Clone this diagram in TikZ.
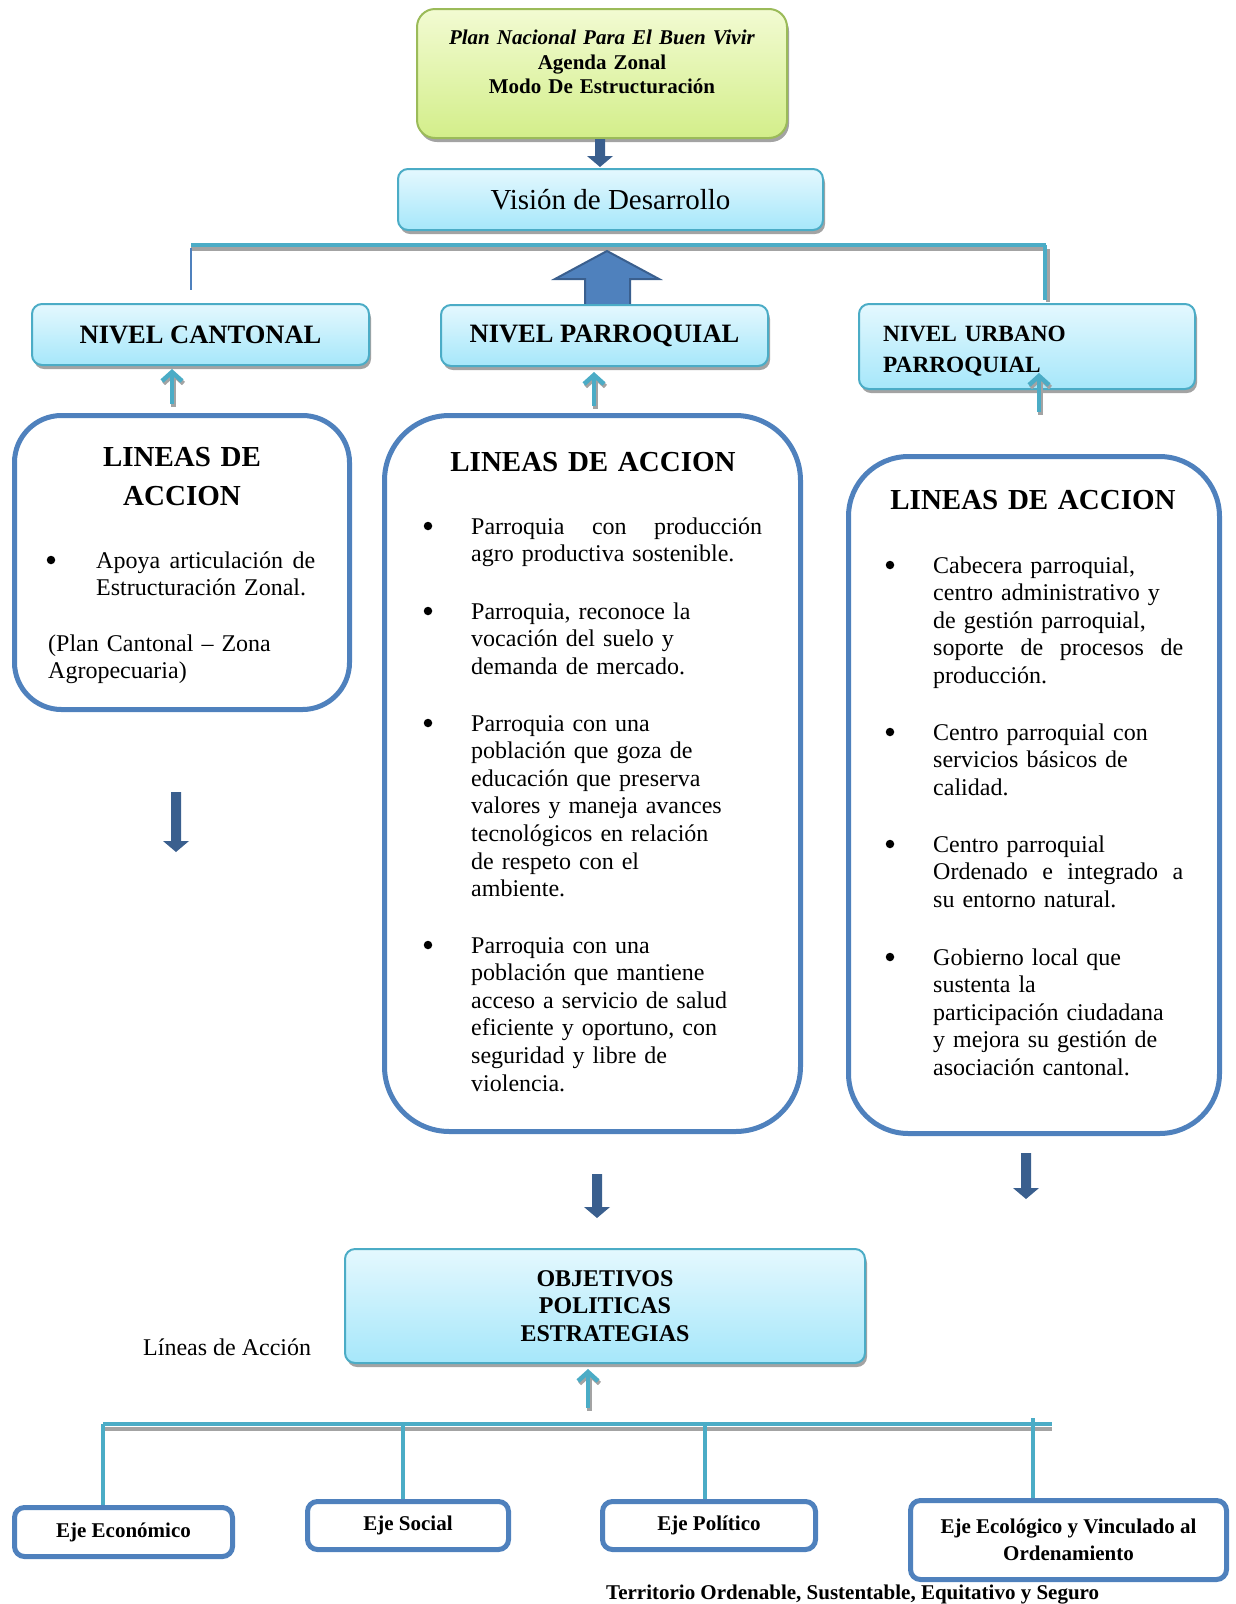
\documentclass[tikz,border=0pt]{standalone}
\usepackage{fontspec}
\setmainfont{Liberation Serif}
\usetikzlibrary{arrows.meta,shadows}
\definecolor{tealc}{HTML}{4BACC6}
\definecolor{bluec}{HTML}{4F81BD}
\definecolor{darkb}{HTML}{3A5F8E}
\definecolor{grnc}{HTML}{9BBB59}
\definecolor{lbtop}{HTML}{E4F8FE}
\definecolor{lbbot}{HTML}{A6E7FA}
\definecolor{gtop}{HTML}{F2FBD2}
\definecolor{gbot}{HTML}{D3EE8A}
\definecolor{shad}{HTML}{A3A3A3}
\newcommand{\fz}[2]{\fontsize{#1}{#2}\selectfont}
\newcommand{\jline}[2]{\leavevmode\hbox to #1{#2}}
\newcommand{\dnarrow}[3]{%
  \fill[darkb] (#1-5,#2) -- (#1+5,#2) -- (#1+5,#3-11) -- (#1+13,#3-11) -- (#1,#3)
    -- (#1-13,#3-11) -- (#1-5,#3-11) -- cycle;}
\begin{document}
\begin{tikzpicture}[x=1pt,y=-1pt,
  lbox/.style={rectangle, rounded corners=10pt, draw=tealc, line width=2pt,
    top color=lbtop, bottom color=lbbot, inner sep=0pt,
    drop shadow={shadow xshift=2pt, shadow yshift=-4pt, fill=shad, opacity=1}},
  gbox/.style={rectangle, rounded corners=18pt, draw=grnc, line width=2pt,
    top color=gtop, bottom color=gbot, inner sep=0pt,
    drop shadow={shadow xshift=2pt, shadow yshift=-4pt, fill=shad, opacity=1}},
  labox/.style={rectangle, draw=bluec, line width=5pt, fill=white, inner sep=0pt},
  ebox/.style={rectangle, rounded corners=10pt, draw=bluec, line width=5pt, fill=white,
    inner sep=0pt, font=\fz{21}{27}\bfseries, align=center},
  btxt/.style={font=\fz{24}{27.6}, text width=#1, align=left, inner sep=0pt, anchor=base west},
  bul/.style={circle, fill=black, inner sep=0pt, minimum size=8.5pt},
  ttl/.style={font=\fz{29}{39}\bfseries, inner sep=0pt, anchor=base, text width=330pt, align=center},
  tline/.style={draw=tealc, line width=4.5pt},
  sline/.style={draw=shad, line width=4pt},
  tarrow/.style={draw=tealc, line width=4.5pt, -{Straight Barb[length=9pt,width=20pt]}},
  sarrow/.style={draw=shad, line width=4.5pt, -{Straight Barb[length=9pt,width=20pt]}},
]
\useasboundingbox (0,0) rectangle (1235,1604);

% ---------- top ----------
\node[gbox, minimum width=370pt, minimum height=129pt] (plan) at (602,73.5) {};
\node[inner sep=0pt, anchor=base, text width=360pt, align=center, font=\fz{21}{24.5}\bfseries]
  (plantxt) at (602,44.5) {\textit{Plan Nacional Para El Buen Vivir}\\Agenda Zonal\\Modo De Estructuración};
\dnarrow{600}{139}{167}

\node[lbox, minimum width=425pt, minimum height=61pt, font=\fz{29}{33}] (vision) at (610.5,199.5) {Visión de Desarrollo};

% ---------- top bracket ----------
\coordinate (brL) at (191,245);
\coordinate (brR) at (1046,245);
\draw[sline] ([yshift=-4]brL) -- ([yshift=-4]brR);
\draw[tline] (brL) -- (brR);
\draw[bluec, line width=1.5pt] ([yshift=-3]brL) -- (191,290);
\draw[sline] (1048,249) -- (1048,302);
\draw[tline] (1045,245) -- (1045,300);

% big block up arrow
\filldraw[fill=bluec, draw=darkb, line width=2pt]
  (607,251) -- (659,279) -- (630,279) -- (630,306) -- (585,306) -- (585,279) -- (555,279) -- cycle;

% ---------- level boxes ----------
\node[lbox, minimum width=337pt, minimum height=61pt, font=\fz{26.5}{30}\bfseries] (canton) at (200.5,334.5) {NIVEL CANTONAL};
\node[lbox, minimum width=327pt, minimum height=61pt, font=\fz{26.5}{30}\bfseries] (parroq) at (604.5,335.5) {NIVEL PARROQUIAL};
\node[lbox, minimum width=336pt, minimum height=85pt] (urbano) at (1027,346.5) {};
\node[inner sep=0pt, anchor=base west, text width=300pt, align=left, font=\fz{23.3}{31}\bfseries]
  (urbtxt) at (883,341) {NIVEL URBANO\\PARROQUIAL};

% ---------- teal up arrows ----------
\coordinate (ta1s) at (172,404); \coordinate (ta1e) at (172,369);
\coordinate (ta2s) at (594,406); \coordinate (ta2e) at (594,372);
\coordinate (ta3s) at (1039,412); \coordinate (ta3e) at (1039,373);
\draw[sarrow] ([shift={(1.5,2.5)}]ta1s) -- ([shift={(1.5,2.5)}]ta1e);
\draw[tarrow] (ta1s) -- (ta1e);
\draw[sarrow] ([shift={(1.5,2.5)}]ta2s) -- ([shift={(1.5,2.5)}]ta2e);
\draw[tarrow] (ta2s) -- (ta2e);
\draw[sarrow] ([shift={(1.5,2.5)}]ta3s) -- ([shift={(1.5,2.5)}]ta3e);
\draw[tarrow] (ta3s) -- (ta3e);

% ---------- LINEAS DE ACCION boxes ----------
\node[labox, rounded corners=47pt, minimum width=335pt, minimum height=294pt] (linL) at (182,562.5) {};
\node[labox, rounded corners=65pt, minimum width=416pt, minimum height=716pt] (linM) at (592.5,773.5) {};
\node[labox, rounded corners=60pt, minimum width=371pt, minimum height=677pt] (linR) at (1034,795) {};

% left box text
\node[ttl] (tL) at (182,466) {LINEAS DE\\ACCION};
\node[bul] (bL1) at (51,560) {};
\node[btxt=219pt] (iL1) at (96,568) {\jline{219pt}{Apoya\hfill articulación\hfill de}\\Estructuración Zonal.};
\node[btxt=290pt] (iL2) at (48,651) {(Plan Cantonal – Zona\\Agropecuaria)};

% middle box text
\node[ttl] (tM) at (593,471.5) {LINEAS DE ACCION};
\node[bul] (bM1) at (428,526) {};
\node[btxt=291pt] (iM1) at (471,534) {\jline{291pt}{Parroquia\hfill con\hfill producción}\\agro productiva sostenible.};
\node[bul] (bM2) at (428,611) {};
\node[btxt=291pt] (iM2) at (471,619) {Parroquia, reconoce la\\vocación del suelo y\\demanda de mercado.};
\node[bul] (bM3) at (428,723) {};
\node[btxt=291pt] (iM3) at (471,731) {Parroquia con una\\población que goza de\\educación que preserva\\valores y maneja avances\\tecnológicos en relación\\de respeto con el\\ambiente.};
\node[bul] (bM4) at (428,945) {};
\node[btxt=291pt] (iM4) at (471,953) {Parroquia con una\\población que mantiene\\acceso a servicio de salud\\eficiente y oportuno, con\\seguridad y libre de\\violencia.};

% right box text
\node[ttl] (tR) at (1033,509.5) {LINEAS DE ACCION};
\node[bul] (bR1) at (890,565) {};
\node[btxt=250pt] (iR1) at (933,573) {Cabecera parroquial,\\centro administrativo y\\de gestión parroquial,\\\jline{250pt}{soporte\hfill de\hfill procesos\hfill de}\\producción.};
\node[bul] (bR2) at (890,732) {};
\node[btxt=250pt] (iR2) at (933,740) {Centro parroquial con\\servicios básicos de\\calidad.};
\node[bul] (bR3) at (890,844) {};
\node[btxt=250pt] (iR3) at (933,852) {Centro parroquial\\\jline{250pt}{Ordenado\hfill e\hfill integrado\hfill a}\\su entorno natural.};
\node[bul] (bR4) at (890,957) {};
\node[btxt=250pt] (iR4) at (933,965) {Gobierno local que\\sustenta la\\participación ciudadana\\y mejora su gestión de\\asociación cantonal.};

% ---------- dark down arrows ----------
\dnarrow{176}{792}{852}
\dnarrow{597}{1174}{1218}
\dnarrow{1026}{1153}{1199}

% ---------- objectives ----------
\node[lbox, minimum width=520pt, minimum height=114pt, font=\fz{24}{27.6}\bfseries, align=center]
  (obj) at (605,1306) {OBJETIVOS\\POLITICAS\\ESTRATEGIAS};
\node[inner sep=0pt, anchor=base west, font=\fz{24}{27.6}] (lineas) at (143,1355) {Líneas de Acción};

\coordinate (ta4s) at (588,1408); \coordinate (ta4e) at (588,1369);
\draw[sarrow] ([shift={(1.5,2.5)}]ta4s) -- ([shift={(1.5,2.5)}]ta4e);
\draw[tarrow] (ta4s) -- (ta4e);

% ---------- eje boxes ----------
\node[ebox, minimum width=218pt, minimum height=49pt] (ejeE) at (123.5,1532) {Eje Económico};
\node[ebox, minimum width=201pt, minimum height=48pt] (ejeS) at (408,1525.5) {Eje Social};
\node[ebox, minimum width=213pt, minimum height=48pt] (ejeP) at (709,1525.5) {Eje Político};
\node[ebox, minimum width=316pt, minimum height=79pt] (ejeEco) at (1068.5,1540) {Eje Ecológico y Vinculado al\\Ordenamiento};

% bottom bracket
\coordinate (bbL) at (103,1424);
\coordinate (bbR) at (1052,1424);
\draw[sline] ([yshift=-4.5]bbL) -- ([yshift=-4.5]bbR);
\draw[tline] (bbL) -- (bbR);
\draw[tline] (bbL) -- (bbL |- ejeE.north);
\draw[tline] (403,1424) -- (403,1424 |- ejeS.north);
\draw[tline] (705,1424) -- (705,1424 |- ejeP.north);
\draw[tline] (1033,1418) -- (1033,1418 |- ejeEco.north);

\node[inner sep=0pt, anchor=base west, font=\fz{21}{25}\bfseries] (territ) at (606,1599)
  {Territorio Ordenable, Sustentable, Equitativo y Seguro};
\end{tikzpicture}
\end{document}
